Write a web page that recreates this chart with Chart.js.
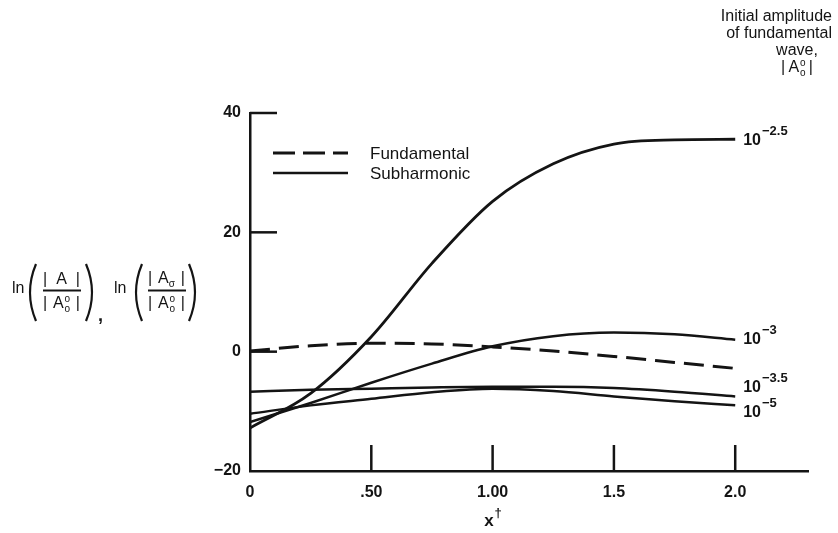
<!DOCTYPE html>
<html>
<head>
<meta charset="utf-8">
<script src="https://cdn.jsdelivr.net/npm/chart.js@4/dist/chart.umd.min.js"></script>
<style>
  html, body { margin: 0; padding: 0; background: #fff; }
</style>
</head>
<body>
<canvas id="chart" width="838" height="533"></canvas>
<script>
// values
const xPositions = [0, 0.25, 0.5, 0.75, 1.0, 1.25, 1.5, 1.75, 2.0];
const subharmonic25 = [-12.8, -7.0, 2.5, 14.8, 25.2, 31.5, 34.8, 35.5, 35.6];
const subharmonic30 = [-11.8, -8.6, -5.2, -2.0, 0.9, 2.6, 3.2, 2.9, 2.0];
const subharmonic35 = [-6.7, -6.4, -6.2, -6.0, -5.9, -5.9, -6.1, -6.7, -7.5];
const subharmonic50 = [-10.4, -9.0, -7.9, -6.8, -6.2, -6.6, -7.5, -8.3, -9.0];
const fundamental = [0.1, 1.0, 1.4, 1.3, 0.8, 0.1, -0.8, -1.8, -2.8];

const xTicks = [0, 0.5, 1.0, 1.5, 2.0];
const xTickLabels = ['0', '.50', '1.00', '1.5', '2.0'];
const yTicks = [-20, 0, 20, 40];
const yTickLabels = ['\u221220', '0', '20', '40'];
const curveExponents = ['\u22122.5', '\u22123', '\u22123.5', '\u22125'];

const INK = '#141414';
const FONT = "'Liberation Sans', Arial, sans-serif";
// vertical nudges for the end labels so they don't sit on top of each other
const labelNudge = [1, 0, -9, 7];

const toPoints = ys => ys.map((y, i) => ({ x: xPositions[i], y: y }));

function put(ctx, s, x, y, size, align, weight) {
    ctx.font = (weight || 'normal') + ' ' + size + 'px ' + FONT;
    ctx.textAlign = align || 'left';
    ctx.textBaseline = 'middle';
    ctx.fillText(s, x, y);
    return ctx.measureText(s).width;
}

// inner part of |A|, |A°o|, |Aσ| (without the bars); returns width
function ampCore(ctx, x, y, size, kind, dry) {
    ctx.font = size + 'px ' + FONT;
    ctx.textAlign = 'left';
    ctx.textBaseline = 'middle';
    const small = Math.round(size * 0.62);
    let w = ctx.measureText('A').width;
    if (!dry) ctx.fillText('A', x, y);
    ctx.font = small + 'px ' + FONT;
    if (kind === 'oo') {
        const ow = ctx.measureText('o').width;
        if (!dry) {
            ctx.fillText('o', x + w + 1, y - size * 0.28);
            ctx.fillText('o', x + w + 1, y + size * 0.3);
        }
        w += ow + 1;
    } else if (kind === 'sigma') {
        const sw = ctx.measureText('\u03c3').width;
        if (!dry) ctx.fillText('\u03c3', x + w, y + size * 0.3);
        w += sw;
    }
    return w;
}

function absAmp(ctx, x0, x1, y, size, kind) {
    put(ctx, '|', x0, y, size, 'left');
    put(ctx, '|', x1, y, size, 'right');
    const w = ampCore(ctx, 0, 0, size, kind, true);
    ampCore(ctx, (x0 + x1) / 2 - w / 2, y, size, kind, false);
}

function paren(ctx, xTip, xMid, yTop, yBot) {
    ctx.beginPath();
    ctx.moveTo(xTip, yTop);
    ctx.quadraticCurveTo(xMid, (yTop + yBot) / 2, xTip, yBot);
    ctx.stroke();
}

const decorations = {
    id: 'decorations',
    afterDraw(chart) {
        const ctx = chart.ctx;
        const xs = chart.scales.x, ys = chart.scales.y;
        const area = chart.chartArea;
        ctx.save();
        ctx.fillStyle = INK;
        ctx.strokeStyle = INK;
        ctx.lineCap = 'butt';

        // inward tick marks
        ctx.lineWidth = 2.5;
        xTicks.slice(1).forEach(v => {
            const px = xs.getPixelForValue(v);
            ctx.beginPath();
            ctx.moveTo(px, area.bottom);
            ctx.lineTo(px, area.bottom - 26);
            ctx.stroke();
        });
        yTicks.slice(1).forEach(v => {
            const py = ys.getPixelForValue(v);
            ctx.beginPath();
            ctx.moveTo(area.left, py);
            ctx.lineTo(area.left + 27, py);
            ctx.stroke();
        });

        // legend
        ctx.lineWidth = 3;
        ctx.setLineDash([22, 8]);
        ctx.beginPath(); ctx.moveTo(273, 153); ctx.lineTo(348, 153); ctx.stroke();
        ctx.setLineDash([]);
        ctx.lineWidth = 2.5;
        ctx.beginPath(); ctx.moveTo(273, 173); ctx.lineTo(348, 173); ctx.stroke();
        put(ctx, 'Fundamental', 370, 154, 17);
        put(ctx, 'Subharmonic', 370, 174, 17);

        // end-of-curve labels 10^n
        [0, 1, 2, 3].forEach(i => {
            const pts = chart.getDatasetMeta(i).data;
            const last = pts[pts.length - 1];
            const lx = last.x + 8, ly = last.y + labelNudge[i];
            const w = put(ctx, '10', lx, ly, 16, 'left', 'bold');
            put(ctx, curveExponents[i], lx + w + 1, ly - 9, 13, 'left', 'bold');
        });

        // header at top right
        put(ctx, 'Initial amplitude', 832, 17, 16, 'right');
        put(ctx, 'of fundamental', 832, 34, 16, 'right');
        put(ctx, 'wave,', 797, 51, 16, 'center');
        absAmp(ctx, 781, 813, 68, 16, 'oo');

        // x-axis title x†
        put(ctx, 'x', 489, 521, 17, 'center', 'bold');
        put(ctx, '\u2020', 498, 513, 13, 'center', 'bold');

        // y-axis title: ln(|A|/|A°o|), ln(|Aσ|/|A°o|)
        ctx.lineWidth = 2.2;
        put(ctx, 'ln', 12, 289, 16);
        paren(ctx, 36, 24, 264, 321);
        absAmp(ctx, 43, 80, 280, 16, 'plain');
        ctx.beginPath(); ctx.moveTo(43, 290.5); ctx.lineTo(81, 290.5); ctx.stroke();
        absAmp(ctx, 43, 80, 304, 16, 'oo');
        paren(ctx, 86, 98, 264, 321);
        put(ctx, ',', 98, 316, 18, 'left', 'bold');

        put(ctx, 'ln', 114, 289, 16);
        paren(ctx, 142, 130, 264, 321);
        absAmp(ctx, 148, 185, 279, 16, 'sigma');
        ctx.beginPath(); ctx.moveTo(148, 290.5); ctx.lineTo(186, 290.5); ctx.stroke();
        absAmp(ctx, 148, 185, 304, 16, 'oo');
        paren(ctx, 189, 201, 264, 321);

        ctx.restore();
    }
};

const lineStyle = {
    borderColor: INK,
    borderWidth: 2.5,
    pointRadius: 0,
    fill: false,
    cubicInterpolationMode: 'monotone'
};

new Chart(document.getElementById('chart'), {
    type: 'line',
    data: {
        datasets: [
            { ...lineStyle, label: '10^-2.5', data: toPoints(subharmonic25), borderWidth: 2.8 },
            { ...lineStyle, label: '10^-3', data: toPoints(subharmonic30) },
            { ...lineStyle, label: '10^-3.5', data: toPoints(subharmonic35) },
            { ...lineStyle, label: '10^-5', data: toPoints(subharmonic50) },
            { ...lineStyle, label: 'Fundamental', data: toPoints(fundamental), borderWidth: 3, borderDash: [20, 9] }
        ]
    },
    options: {
        responsive: false,
        animation: false,
        layout: { padding: { left: 200, top: 113, right: 30, bottom: 0 } },
        plugins: {
            legend: { display: false },
            tooltip: { enabled: false }
        },
        scales: {
            x: {
                type: 'linear',
                min: 0,
                max: 2.3,
                afterBuildTicks: s => { s.ticks = xTicks.map(v => ({ value: v })); },
                afterFit: s => { s.height = 62; },
                grid: { display: false, drawTicks: false },
                border: { display: true, color: INK, width: 2.5 },
                ticks: {
                    autoSkip: false,
                    maxRotation: 0,
                    padding: 12,
                    color: INK,
                    font: { family: FONT, size: 16, weight: 'bold' },
                    callback: v => xTickLabels[xTicks.indexOf(v)]
                }
            },
            y: {
                min: -20,
                max: 40,
                afterBuildTicks: s => { s.ticks = yTicks.map(v => ({ value: v })); },
                afterFit: s => { s.width = 50; },
                grid: { display: false, drawTicks: false },
                border: { display: true, color: INK, width: 2.5 },
                ticks: {
                    padding: 9,
                    color: INK,
                    font: { family: FONT, size: 16, weight: 'bold' },
                    callback: v => yTickLabels[yTicks.indexOf(v)]
                }
            }
        }
    },
    plugins: [decorations]
});
</script>
</body>
</html>
